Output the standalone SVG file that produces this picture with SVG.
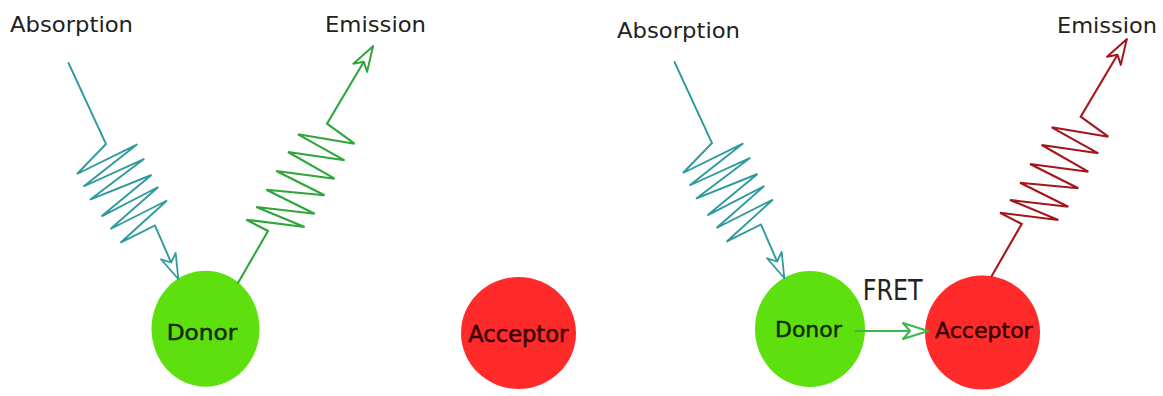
<svg xmlns="http://www.w3.org/2000/svg" width="1163" height="396" viewBox="0 0 1163 396">
  <style>
    .lbl { font-family: "DejaVu Sans", "Liberation Sans", sans-serif; fill: #222; }
    .nlbl { font-family: "DejaVu Sans", "Liberation Sans", sans-serif; stroke-width: 0.5; }
    .dl { fill: #142a00; stroke: #142a00; }
    .al { fill: #360000; stroke: #360000; }
    .donor { fill: #5ee00f; }
    .acceptor { fill: #ff2b2b; }
    .wave { fill: none; stroke-width: 1.9; stroke-linejoin: miter; stroke-linecap: round; }
    .abs { stroke: #2f9a9c; }
    .emg { stroke: #2fa53a; stroke-width: 2.1; }
    .emr { stroke: #a3161c; stroke-width: 2.1; }
    .fret { stroke: #3db54a; stroke-width: 2.2; fill: none; }
  </style>
  <defs>
    <!-- open notched arrowheads, one per stroke colour -->
    <marker id="ahTeal" markerUnits="userSpaceOnUse" viewBox="-30 -12 34 24" markerWidth="34" markerHeight="24" refX="0" refY="0" orient="auto">
      <path d="M0,0 L-25,-8 L-18,0 L-25,8 Z" fill="#fff" stroke="#2f9a9c" stroke-width="1.8" stroke-linejoin="round"/>
    </marker>
    <marker id="ahGreen" markerUnits="userSpaceOnUse" viewBox="-30 -12 34 24" markerWidth="34" markerHeight="24" refX="0" refY="0" orient="auto">
      <path d="M0,0 L-25,-8 L-18,0 L-25,8 Z" fill="#fff" stroke="#2fa53a" stroke-width="2" stroke-linejoin="round"/>
    </marker>
    <marker id="ahRed" markerUnits="userSpaceOnUse" viewBox="-30 -12 34 24" markerWidth="34" markerHeight="24" refX="0" refY="0" orient="auto">
      <path d="M0,0 L-25,-8 L-18,0 L-25,8 Z" fill="#fff" stroke="#a3161c" stroke-width="2" stroke-linejoin="round"/>
    </marker>
    <marker id="ahFret" markerUnits="userSpaceOnUse" viewBox="-30 -12 34 24" markerWidth="34" markerHeight="24" refX="0" refY="0" orient="auto">
      <path d="M0,0 L-25,-8 L-18,0 L-25,8 Z" fill="#fff" stroke="#3db54a" stroke-width="2" stroke-linejoin="round"/>
    </marker>
  </defs>

  <!-- headings -->
  <g id="headings">
    <text class="lbl" x="10" y="31.5" font-size="21.5" textLength="123" lengthAdjust="spacingAndGlyphs">Absorption</text>
    <text class="lbl" x="325" y="31.5" font-size="22" textLength="101" lengthAdjust="spacingAndGlyphs">Emission</text>
    <text class="lbl" x="617" y="37.5" font-size="21.5" textLength="123" lengthAdjust="spacingAndGlyphs">Absorption</text>
    <text class="lbl" x="1057" y="33.3" font-size="22" textLength="100" lengthAdjust="spacingAndGlyphs">Emission</text>
    <text class="lbl" x="862.7" y="300" font-size="29" textLength="60" lengthAdjust="spacingAndGlyphs" fill="#111">FRET</text>
  </g>

  <!-- molecules -->
  <g id="donor-left">
    <ellipse class="donor" cx="205.5" cy="328.7" rx="54" ry="58"/>
    <text class="nlbl dl" x="166.7" y="340" font-size="22" textLength="70.6" lengthAdjust="spacingAndGlyphs">Donor</text>
  </g>
  <g id="acceptor-alone">
    <ellipse class="acceptor" cx="518.5" cy="333" rx="57.5" ry="56"/>
    <text class="nlbl al" x="468.3" y="341.7" font-size="22.5" textLength="100" lengthAdjust="spacingAndGlyphs">Acceptor</text>
  </g>
  <g id="donor-right">
    <ellipse class="donor" cx="810" cy="329" rx="55" ry="58"/>
    <text class="nlbl dl" x="775" y="337.3" font-size="21.5" textLength="66.7" lengthAdjust="spacingAndGlyphs">Donor</text>
  </g>
  <g id="acceptor-right">
    <ellipse class="acceptor" cx="982.5" cy="332.5" rx="57.5" ry="57"/>
    <text class="nlbl al" x="935" y="338.3" font-size="22" textLength="97.7" lengthAdjust="spacingAndGlyphs">Acceptor</text>
  </g>

  <!-- photon paths and energy transfer -->
  <g id="connectors">
    <polyline class="wave abs" marker-end="url(#ahTeal)" points="68.5,63 106,144 77,174 137.3,144.3 83.5,186.5 144.3,158.8 90,199.7 151.5,175 101.5,216.3 158.3,187 110.5,229 167,200.5 120.5,242.7 155,225.5 178.3,279"/>
    <polyline class="wave emg" marker-end="url(#ahGreen)" points="238,283 268,231 246.3,219.7 304.6,227 256.3,207 314.6,213.7 266.3,189.7 324.6,195.3 276.3,171 334.6,178.7 288,152 344.6,160.3 298,134.3 354.6,143.7 327,123.7 373,46.3"/>
    <polyline class="wave abs" marker-end="url(#ahTeal)" points="674.5,62 712,143 683,173 743.3,143.3 689.5,185.5 750.3,157.8 696,198.7 757.5,174 707.5,215.3 764.3,186 716.5,228 773,199.5 726.5,241.7 761,224.5 784.3,278"/>
    <polyline class="wave emr" marker-end="url(#ahRed)" points="991.7,276 1021.7,224 1000,212.7 1058.3,220 1010,200 1068.3,206.7 1020,182.7 1078.3,188.3 1030,164 1088.3,171.7 1041.7,145 1098.3,153.3 1051.7,127.3 1108.3,136.7 1080.7,116.7 1126.7,39.3"/>
    <line class="fret" x1="855" y1="331" x2="928" y2="331" marker-end="url(#ahFret)"/>
  </g>
</svg>
